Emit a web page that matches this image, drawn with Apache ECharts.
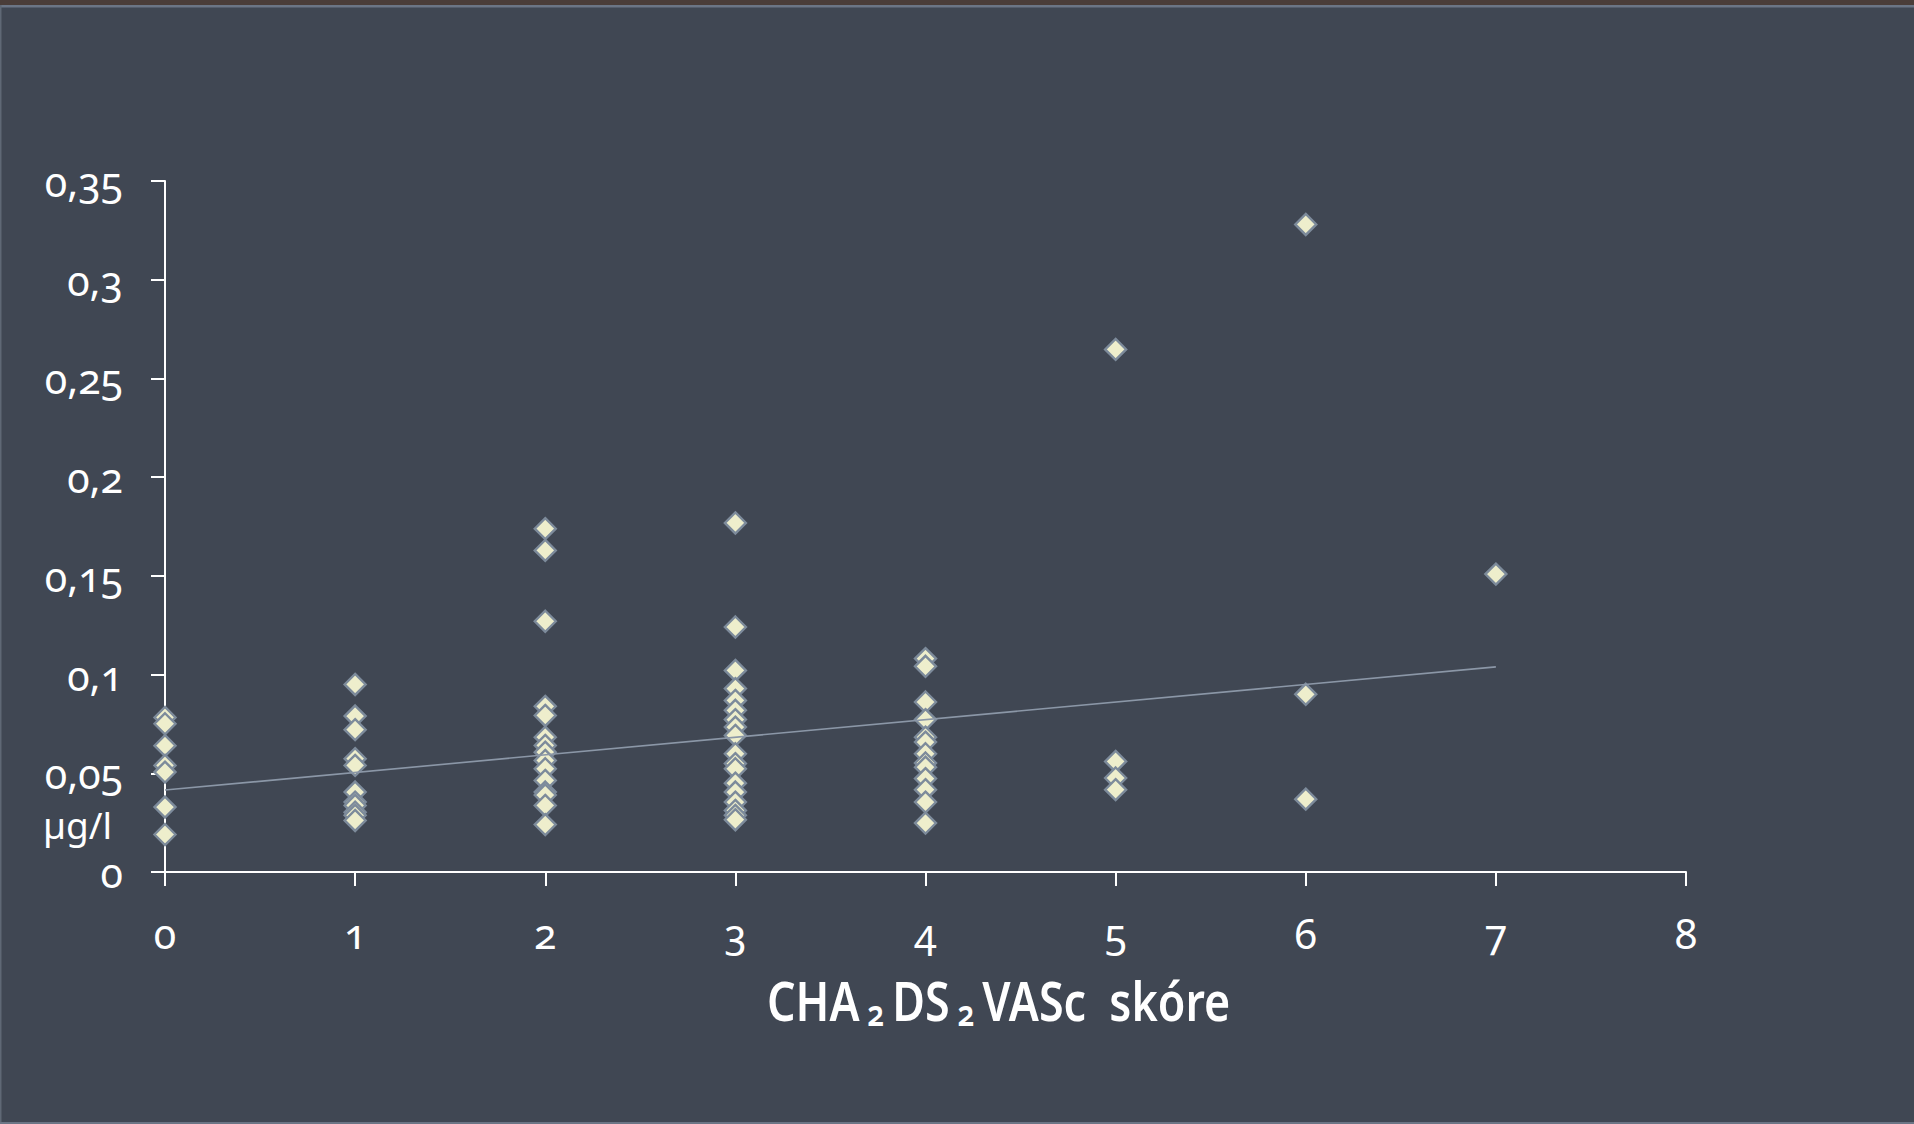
<!DOCTYPE html>
<html>
<head>
<meta charset="utf-8">
<script src="https://cdn.jsdelivr.net/npm/echarts@6/dist/echarts.min.js"></script>
<style>
  html, body { margin: 0; padding: 0; background: #404753; }
  #chart { width: 1914px; height: 1124px; }
  /* old-style figures for the tick numbers */
  #chart svg text { font-feature-settings: "onum" 1; font-variant-numeric: oldstyle-nums; }
</style>
</head>
<body>
<div id="chart"></div>
<script>
// CHA2DS2-VASc score (x) vs. measured concentration in µg/l (y)
const scores = [0, 1, 2, 3, 4, 5, 6, 7];
const valuesByScore = [
  [0.0783, 0.0751, 0.0640, 0.0540, 0.0506, 0.0329, 0.0190],
  [0.0950, 0.0790, 0.0721, 0.0574, 0.0540, 0.0405, 0.0354, 0.0337, 0.0303, 0.0287, 0.0261],
  [0.1739, 0.1629, 0.1270, 0.0839, 0.0793, 0.0683, 0.0641, 0.0607, 0.0565, 0.0523, 0.0464, 0.0405, 0.0390, 0.0337, 0.0240],
  [0.1768, 0.1241, 0.1021, 0.0929, 0.0869, 0.0819, 0.0772, 0.0734, 0.0692, 0.0599, 0.0549, 0.0523, 0.0450, 0.0405, 0.0354, 0.0312, 0.0287, 0.0265],
  [0.1081, 0.1042, 0.0861, 0.0772, 0.0683, 0.0658, 0.0599, 0.0552, 0.0531, 0.0473, 0.0417, 0.0354, 0.0248],
  [0.2647, 0.0560, 0.0476, 0.0417],
  [0.3280, 0.0900, 0.0369],
  [0.1509]
];
// linear trend, endpoints at score 0 and 7
const trendLine = [[0, 0.0415], [7, 0.1039]];
const xTickLabels = ['0', '1', '2', '3', '4', '5', '6', '7', '8'];
const yTickLabels = ['0', '0,05', '0,1', '0,15', '0,2', '0,25', '0,3', '0,35'];
const yUnit = 'µg/l';

const points = [];
scores.forEach((s, i) => valuesByScore[i].forEach(v => points.push([s, v])));

const FONT = '"Noto Sans", "Open Sans", sans-serif';
const W = 1914, H = 1124;
const chart = echarts.init(document.getElementById('chart'), null, { renderer: 'svg', width: W, height: H });

chart.setOption({
  backgroundColor: '#404753',
  animation: false,
  grid: { left: 165, right: 228, top: 181, bottom: 252, containLabel: false },
  xAxis: {
    type: 'value', min: 0, max: 8, interval: 1,
    axisLine: { show: true, onZero: false, lineStyle: { color: '#ffffff', width: 2 } },
    axisTick: { show: true, length: 14, lineStyle: { color: '#ffffff', width: 2 } },
    splitLine: { show: false },
    axisLabel: {
      color: '#ffffff', fontFamily: FONT, fontSize: 41, margin: 40,
      formatter: v => xTickLabels[Math.round(v)]
    }
  },
  yAxis: {
    type: 'value', min: 0, max: 0.35, interval: 0.05,
    axisLine: { show: true, onZero: false, lineStyle: { color: '#ffffff', width: 2 } },
    axisTick: { show: true, length: 14, lineStyle: { color: '#ffffff', width: 2 } },
    splitLine: { show: false },
    axisLabel: {
      color: '#ffffff', fontFamily: FONT, fontSize: 41, margin: 42,
      formatter: v => yTickLabels[Math.round(v / 0.05)]
    }
  },
  series: [
    {
      type: 'scatter', data: points, symbol: 'diamond', symbolSize: 21, z: 2,
      itemStyle: { color: '#eeeecc', borderColor: '#7d8b9b', borderWidth: 2.4, opacity: 1 }
    },
    {
      type: 'line', data: trendLine, symbol: 'none', z: 3, silent: true,
      lineStyle: { color: '#8b97a7', width: 1.6 }
    }
  ],
  graphic: [
    { type: 'rect', shape: { x: 0, y: 0, width: W, height: 5 }, style: { fill: '#4a3d39' }, z: 10 },
    { type: 'rect', shape: { x: 0, y: 5, width: W, height: 2.5 }, style: { fill: '#6b7585' }, z: 10 },
    { type: 'rect', shape: { x: 0, y: 5, width: 1.5, height: H - 5 }, style: { fill: '#5f6875' }, z: 10 },
    { type: 'rect', shape: { x: 0, y: H - 2, width: W, height: 2 }, style: { fill: '#6b7585' }, z: 10 },
    {
      type: 'text', x: 112, y: 824,
      style: { text: yUnit, fill: '#ffffff', font: '37px ' + FONT, textAlign: 'right', textVerticalAlign: 'middle' }
    },
    {
      type: 'text', x: 767, y: 1000, scaleX: 0.83, originX: 0,
      style: {
        text: '{m|CHA}{s| 2 }{m|DS}{s| 2 }{m|VASc  skóre}',
        textVerticalAlign: 'middle',
        rich: {
          m: { fill: '#ffffff', fontFamily: FONT, fontSize: 54, fontWeight: 600 },
          s: { fill: '#ffffff', fontFamily: FONT, fontSize: 36, fontWeight: 600, padding: [24, 0, 0, 0] }
        }
      }
    }
  ]
});
</script>
</body>
</html>
